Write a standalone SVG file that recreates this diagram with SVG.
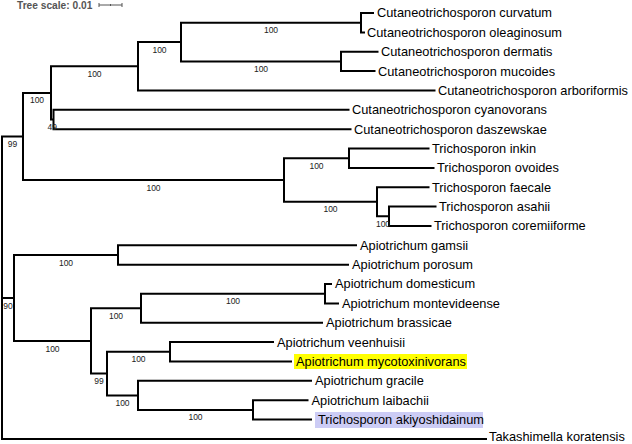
<svg xmlns="http://www.w3.org/2000/svg" width="632" height="444" viewBox="0 0 632 444">
<style>
.br{fill:none;stroke:#000;stroke-width:2;stroke-linejoin:miter;stroke-linecap:butt}
.lf{font-family:"Liberation Sans",Arial,Helvetica,sans-serif;font-size:12.8px;fill:#000}
.bs{font-family:"Liberation Sans",Arial,Helvetica,sans-serif;font-size:8.5px;fill:#222;text-anchor:middle}
.sc{font-family:"Liberation Sans",Arial,Helvetica,sans-serif;font-size:10.2px;font-weight:bold;fill:#555}
</style>
<rect width="632" height="444" fill="#fff"/>
<g id="scale">
<text class="sc" x="17" y="8.7">Tree scale: 0.01</text>
<path d="M99 5H122M99 3V7M122 3V7M110.5 4V6" fill="none" stroke="#555" stroke-width="1"/>
</g>
<g id="connectors">
<path class="br" d="M23 136.5H2V438.9H487M2 298H14"/>
<path class="br" d="M51 92.9H23V180H284"/>
<path class="br" d="M138 66.3H51V119.5H53.5"/>
<path class="br" d="M181 42.1H138V90.4H435.5"/>
<path class="br" d="M361 22.7H181V61.4H341"/>
<path class="br" d="M374 13H361V32.4H365"/>
<path class="br" d="M378.5 51.7H341V71.1H375.5"/>
<path class="br" d="M349.5 109.8H53.5V129.2H351.5"/>
<path class="br" d="M349 158.2H284V201.8H377"/>
<path class="br" d="M429.5 148.5H349V167.9H434.5"/>
<path class="br" d="M429.5 187.2H377V216.3H389"/>
<path class="br" d="M436.5 206.6H389V226H431.5"/>
<path class="br" d="M118 255H14V341H91"/>
<path class="br" d="M357 245.3H118V264.7H349"/>
<path class="br" d="M141 308.3H91V373.6H107"/>
<path class="br" d="M325 293.7H141V322.8H323"/>
<path class="br" d="M332 284H325V303.4H339"/>
<path class="br" d="M170 351.8H107V395.4H138"/>
<path class="br" d="M274 342.1H170V361.5H292"/>
<path class="br" d="M312 380.8H138V409.9H253"/>
<path class="br" d="M308.5 400.2H253V419.6H312"/>
</g>
<g id="bootstrap">
<text class="bs" x="12.5" y="147">99</text>
<text class="bs" x="37" y="103.4">100</text>
<text class="bs" x="94.5" y="76.8">100</text>
<text class="bs" x="159.5" y="52.6">100</text>
<text class="bs" x="271" y="33.2">100</text>
<text class="bs" x="261" y="71.9">100</text>
<text class="bs" x="52.3" y="130">49</text>
<text class="bs" x="153.5" y="190.5">100</text>
<text class="bs" x="316.5" y="168.7">100</text>
<text class="bs" x="330.5" y="212.3">100</text>
<text class="bs" x="383" y="226.8">100</text>
<text class="bs" x="8" y="308.5">90</text>
<text class="bs" x="66" y="265.5">100</text>
<text class="bs" x="52.5" y="351.5">100</text>
<text class="bs" x="116" y="318.8">100</text>
<text class="bs" x="233" y="304.2">100</text>
<text class="bs" x="99" y="384.1">99</text>
<text class="bs" x="138.5" y="362.3">100</text>
<text class="bs" x="122.5" y="405.9">100</text>
<text class="bs" x="195.5" y="420.4">100</text>
</g>
<g id="leaf-curvatum"><text class="lf" x="377" y="17.4">Cutaneotrichosporon curvatum</text></g>
<g id="leaf-oleaginosum"><text class="lf" x="367" y="36.8">Cutaneotrichosporon oleaginosum</text></g>
<g id="leaf-dermatis"><text class="lf" x="381" y="56.1">Cutaneotrichosporon dermatis</text></g>
<g id="leaf-mucoides"><text class="lf" x="378" y="75.5">Cutaneotrichosporon mucoides</text></g>
<g id="leaf-arboriformis"><text class="lf" x="438" y="94.8">Cutaneotrichosporon arboriformis</text></g>
<g id="leaf-cyanovorans"><text class="lf" x="352" y="114.2">Cutaneotrichosporon cyanovorans</text></g>
<g id="leaf-daszewskae"><text class="lf" x="354" y="133.6">Cutaneotrichosporon daszewskae</text></g>
<g id="leaf-inkin"><text class="lf" x="432" y="152.9">Trichosporon inkin</text></g>
<g id="leaf-ovoides"><text class="lf" x="437" y="172.3">Trichosporon ovoides</text></g>
<g id="leaf-faecale"><text class="lf" x="432" y="191.6">Trichosporon faecale</text></g>
<g id="leaf-asahii"><text class="lf" x="439" y="211">Trichosporon asahii</text></g>
<g id="leaf-coremiiforme"><text class="lf" x="434" y="230.4">Trichosporon coremiiforme</text></g>
<g id="leaf-gamsii"><text class="lf" x="360" y="249.7">Apiotrichum gamsii</text></g>
<g id="leaf-porosum"><text class="lf" x="352" y="269.1">Apiotrichum porosum</text></g>
<g id="leaf-domesticum"><text class="lf" x="335" y="288.4">Apiotrichum domesticum</text></g>
<g id="leaf-montevideense"><text class="lf" x="342" y="307.8">Apiotrichum montevideense</text></g>
<g id="leaf-brassicae"><text class="lf" x="326" y="327.2">Apiotrichum brassicae</text></g>
<g id="leaf-veenhuisii"><text class="lf" x="277" y="346.5">Apiotrichum veenhuisii</text></g>
<g id="leaf-mycotoxinivorans"><rect x="294" y="354" width="173" height="15" fill="#ffff00"/><text class="lf" x="296" y="365.9">Apiotrichum mycotoxinivorans</text></g>
<g id="leaf-gracile"><text class="lf" x="315" y="385.2">Apiotrichum gracile</text></g>
<g id="leaf-laibachii"><text class="lf" x="311.5" y="404.6">Apiotrichum laibachii</text></g>
<g id="leaf-akiyoshidainum"><rect x="315" y="412" width="168" height="16" fill="#ccccf5"/><text class="lf" x="318" y="424">Trichosporon akiyoshidainum</text></g>
<g id="leaf-takashimella"><text class="lf" x="489" y="441.2" font-size="12.6px">Takashimella koratensis</text></g>
</svg>
